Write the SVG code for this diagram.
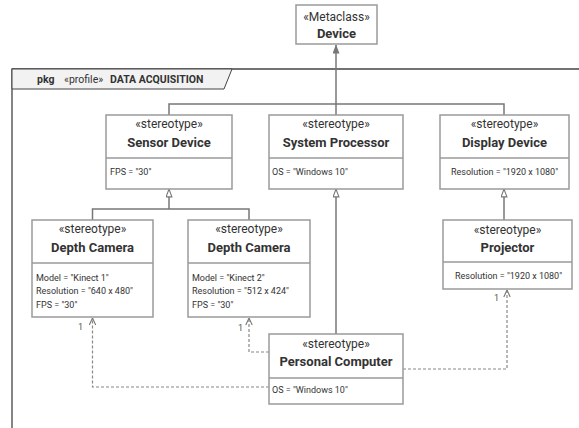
<svg xmlns="http://www.w3.org/2000/svg" width="579" height="428" viewBox="0 0 579 428">
  <style>
    .box { fill: #ffffff; stroke: #9a9a9a; stroke-width: 1.5; }
    .div { stroke: #9a9a9a; stroke-width: 1.5; }
    .st { font-family: Roboto, "Liberation Sans", sans-serif; font-size: 12px; fill: #333333; text-anchor: middle; }
    .nm { font-family: Roboto, "Liberation Sans", sans-serif; font-size: 13px; font-weight: bold; fill: #333333; text-anchor: middle; }
    .at { font-family: Roboto, "Liberation Sans", sans-serif; font-size: 9px; fill: #333333; }
    .mul { font-family: Roboto, "Liberation Sans", sans-serif; font-size: 9px; fill: #555555; }
    .ln { fill: none; stroke: #777777; stroke-width: 1.5; }
    .dash { fill: none; stroke: #888888; stroke-width: 1.2; stroke-dasharray: 3 2; }
    .pk { font-family: Roboto, "Liberation Sans", sans-serif; font-size: 10.5px; fill: #333333; }
  </style>
  <defs>
    <marker id="ext" viewBox="0 0 9 7" refX="8.5" refY="3.5" markerWidth="9" markerHeight="7" markerUnits="userSpaceOnUse" orient="auto">
      <path d="M0,0 L9,3.5 L0,7 Z" fill="#777777"/>
    </marker>
    <marker id="gen" viewBox="0 0 9 7" refX="8.5" refY="3.5" markerWidth="9" markerHeight="7" markerUnits="userSpaceOnUse" orient="auto">
      <path d="M0.6,0.6 L8.4,3.5 L0.6,6.4 Z" fill="#ffffff" stroke="#777777" stroke-width="1.1"/>
    </marker>
    <marker id="open" viewBox="0 0 8 8" refX="7.5" refY="4" markerWidth="8" markerHeight="8" markerUnits="userSpaceOnUse" orient="auto">
      <path d="M0.5,0.8 L7.5,4 L0.5,7.2" fill="none" stroke="#777777" stroke-width="1.1" stroke-dasharray="none"/>
    </marker>
  </defs>

  <!-- profile package frame -->
  <g id="package">
    <path d="M12,428 V69 H579" fill="none" stroke="#444444" stroke-width="1.3"/>
    <path d="M12,69 H232 L224,89 H12 Z" fill="#f2f2f2" stroke="#444444" stroke-width="1"/>
    <text class="pk" y="83"><tspan x="37" font-weight="bold">pkg</tspan><tspan x="64">«profile»</tspan><tspan x="110" font-weight="bold">DATA ACQUISITION</tspan></text>
  </g>

  <!-- connectors -->
  <g id="connectors">
    <path class="ln" d="M336,115 V45" marker-end="url(#ext)"/>
    <path class="ln" d="M169,115 V104 H504 V115"/>
    <path class="ln" d="M92.5,220 V209 H249 V220"/>
    <path class="ln" d="M169,209 V189" marker-end="url(#gen)"/>
    <path class="ln" d="M336,334 V189" marker-end="url(#gen)"/>
    <path class="ln" d="M504,220 V189" marker-end="url(#gen)"/>
    <path class="dash" d="M269,352 H249 V318" marker-end="url(#open)"/>
    <path class="dash" d="M269,387 H92.5 V318" marker-end="url(#open)"/>
    <path class="dash" d="M403,369 H507 V290" marker-end="url(#open)"/>
    <text class="mul" x="78" y="330">1</text>
    <text class="mul" x="238" y="331">1</text>
    <text class="mul" x="494" y="301">1</text>
  </g>

  <g id="device">
    <rect class="box" x="296" y="5" width="81" height="39"/>
    <text class="st" x="336.5" y="21">«Metaclass»</text>
    <text class="nm" x="336.5" y="38" font-size="12">Device</text>
  </g>

  <g id="sensor-device">
    <rect class="box" x="106" y="115" width="126" height="74"/>
    <line class="div" x1="106" y1="158" x2="232" y2="158"/>
    <text class="st" x="169" y="128">«stereotype»</text>
    <text class="nm" x="169" y="147">Sensor Device</text>
    <text class="at" x="110" y="175">FPS = "30"</text>
  </g>

  <g id="system-processor">
    <rect class="box" x="269" y="115" width="134" height="74"/>
    <line class="div" x1="269" y1="158" x2="403" y2="158"/>
    <text class="st" x="336" y="128">«stereotype»</text>
    <text class="nm" x="336" y="147">System Processor</text>
    <text class="at" x="272" y="175">OS = "Windows 10"</text>
  </g>

  <g id="display-device">
    <rect class="box" x="440" y="115" width="129" height="74"/>
    <line class="div" x1="440" y1="158" x2="569" y2="158"/>
    <text class="st" x="504.5" y="128">«stereotype»</text>
    <text class="nm" x="504.5" y="147">Display Device</text>
    <text class="at" x="451" y="175">Resolution = "1920 x 1080"</text>
  </g>

  <g id="depth-camera-1">
    <rect class="box" x="32" y="220" width="121" height="97"/>
    <line class="div" x1="32" y1="263" x2="153" y2="263"/>
    <text class="st" x="92.5" y="233">«stereotype»</text>
    <text class="nm" x="92.5" y="252">Depth Camera</text>
    <text class="at" x="36" y="281">Model = "Kinect 1"</text>
    <text class="at" x="36" y="294">Resolution = "640 x 480"</text>
    <text class="at" x="36" y="307.5">FPS = "30"</text>
  </g>

  <g id="depth-camera-2">
    <rect class="box" x="188" y="220" width="122" height="97"/>
    <line class="div" x1="188" y1="263" x2="310" y2="263"/>
    <text class="st" x="249" y="233">«stereotype»</text>
    <text class="nm" x="249" y="252">Depth Camera</text>
    <text class="at" x="192" y="281">Model = "Kinect 2"</text>
    <text class="at" x="192" y="294">Resolution = "512 x 424"</text>
    <text class="at" x="192" y="307.5">FPS = "30"</text>
  </g>

  <g id="projector">
    <rect class="box" x="443" y="220" width="129" height="69"/>
    <line class="div" x1="443" y1="262" x2="572" y2="262"/>
    <text class="st" x="507.5" y="234">«stereotype»</text>
    <text class="nm" x="507.5" y="252">Projector</text>
    <text class="at" x="455" y="279">Resolution = "1920 x 1080"</text>
  </g>

  <g id="personal-computer">
    <rect class="box" x="269" y="334" width="134" height="70"/>
    <line class="div" x1="269" y1="378" x2="403" y2="378"/>
    <text class="st" x="336" y="348">«stereotype»</text>
    <text class="nm" x="336" y="366">Personal Computer</text>
    <text class="at" x="272" y="393">OS = "Windows 10"</text>
  </g>
</svg>
